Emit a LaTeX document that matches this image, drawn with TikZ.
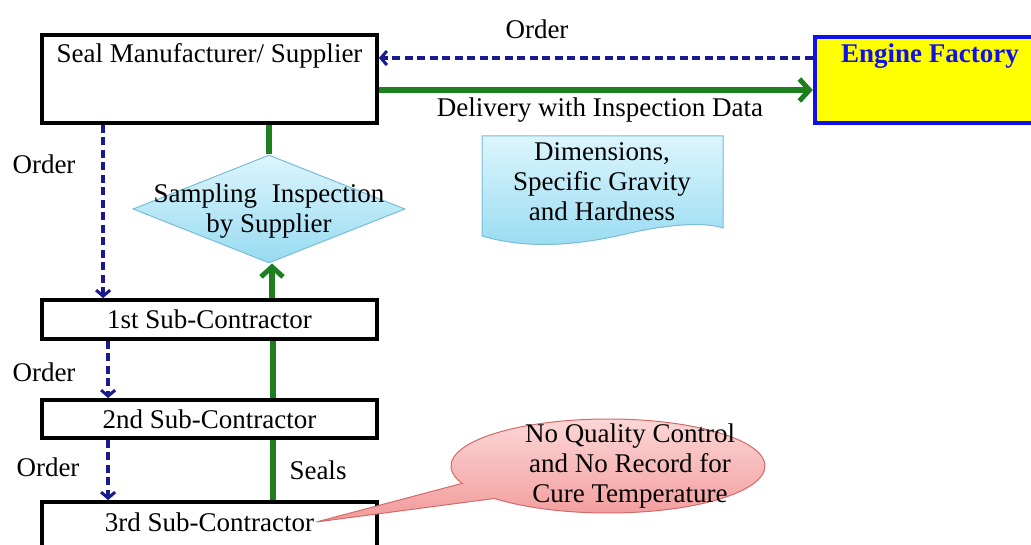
\documentclass[tikz,border=0pt]{standalone}
\usepackage{fontspec}
\setmainfont{Liberation Serif}
\usetikzlibrary{arrows.meta,shapes.geometric,shapes.callouts,calc}
\definecolor{ordblue}{HTML}{1A1A90}
\definecolor{flowgreen}{HTML}{1E7F1E}
\definecolor{factblue}{HTML}{1010E8}
\definecolor{factyellow}{HTML}{FFFF00}
\definecolor{cyanedge}{HTML}{79BCD6}
\definecolor{cyantop}{HTML}{DCF5FD}
\definecolor{cyanbot}{HTML}{98DBF1}
\definecolor{pinkedge}{HTML}{D26A6A}
\definecolor{pinktop}{HTML}{FCD6D6}
\definecolor{pinkbot}{HTML}{F29A9A}
\begin{document}
\begin{tikzpicture}[x=1pt,y=-1pt,
  every node/.style={font=\fontsize{27}{30}\selectfont},
  txt/.style={inner sep=2pt, align=center},
  box/.style={draw=black, line width=3.8pt, fill=white, inner sep=0pt, minimum width=335pt},
  orderline/.style={draw=ordblue, line width=3.6pt, dash pattern=on 8pt off 4.5pt,
    -{Straight Barb[length=6pt,width=14pt,line width=3pt]}},
  goods/.style={draw=flowgreen, line width=5.5pt},
  goodsarrow/.style={goods, -{Straight Barb[length=10pt,width=22pt,line width=5pt]}}
]
\useasboundingbox (0,0) rectangle (1031,545);

% organisations in the supply chain
\node[box, minimum height=88pt] (seal) at (209.5,79) {};
\node[txt] (sealtxt) at (209.5,56) {Seal Manufacturer/ Supplier};

\node[draw=factblue, line width=4.5pt, fill=factyellow, inner sep=0pt,
      minimum width=225pt, minimum height=86pt] (ef) at (927.5,80) {};
\node[txt, text=factblue, font=\fontsize{27}{30}\selectfont\bfseries] (eftxt) at (930,56) {Engine Factory};

\node[box, minimum height=39pt] (sub1) at (209.5,319.5) {1st Sub-Contractor};
\node[box, minimum height=38pt] (sub2) at (209.5,419) {2nd Sub-Contractor};
\node[box, minimum height=58pt] (sub3) at (209.5,531) {};
\node[txt] (sub3txt) at (209.5,522) {3rd Sub-Contractor};

% inspection step
\node[diamond, draw=cyanedge, line width=1pt, top color=cyantop, bottom color=cyanbot,
      inner sep=0pt, minimum width=272pt, minimum height=108pt] (insp) at (269,209) {};
\node[txt] (insptxt) at (269,211) {Sampling\hspace{0.55em}Inspection\\by Supplier};

% inspection data sheet
\path[draw=cyanedge, line width=1pt, top color=cyantop, bottom color=cyanbot]
  (482,136) -- (723,136) -- (723,228)
  .. controls (705,222) and (670,224) .. (630,233)
  .. controls (580,245) and (530,250) .. (482,236) -- cycle;
\node[txt] (data) at (602,182) {Dimensions,\\Specific Gravity\\and Hardness};

% remark balloon
\node[ellipse callout, draw=pinkedge, line width=1pt, top color=pinktop, bottom color=pinkbot,
      minimum width=314pt, minimum height=94pt, inner sep=0pt, callout pointer arc=22,
      callout absolute pointer={(sub3txt.east)}] (note) at (608,466) {};
\node[txt] (notetxt) at (630,466) {No Quality Control\\and No Record for\\Cure Temperature};

% orders
\draw[orderline] ([yshift=22pt]ef.west) -- ([yshift=21pt]seal.east);
\draw[orderline] ([xshift=63pt]seal.south west) -- ([xshift=63pt]sub1.north west);
\draw[orderline] ([xshift=68pt]sub1.south west) -- ([xshift=68pt]sub2.north west);
\draw[orderline] ([xshift=68pt]sub2.south west) -- ([xshift=68pt]sub3.north west);

% flow of seals
\draw[goodsarrow] ([yshift=-11pt]seal.east) -- ([yshift=-10pt]ef.west);
\draw[goods] (insp.north) -- (insp.north |- seal.south);
\draw[goodsarrow] ([xshift=3pt]insp.south |- sub1.north) -- ([xshift=3pt]insp.south);
\draw[goods] ([xshift=4pt]insp.south |- sub2.north) -- ([xshift=4pt]insp.south |- sub1.south);
\draw[goods] ([xshift=4pt]insp.south |- sub3.north) -- ([xshift=4pt]insp.south |- sub2.south);

% labels
\node[txt] (o1) at (537,29) {Order};
\node[txt] (deliv) at (600,110) {Delivery with Inspection Data};
\node[txt] (o2) at (44,164) {Order};
\node[txt] (o3) at (44,372) {Order};
\node[txt] (o4) at (48,467) {Order};
\node[txt] (seals) at (318,470) {Seals};
\end{tikzpicture}
\end{document}
